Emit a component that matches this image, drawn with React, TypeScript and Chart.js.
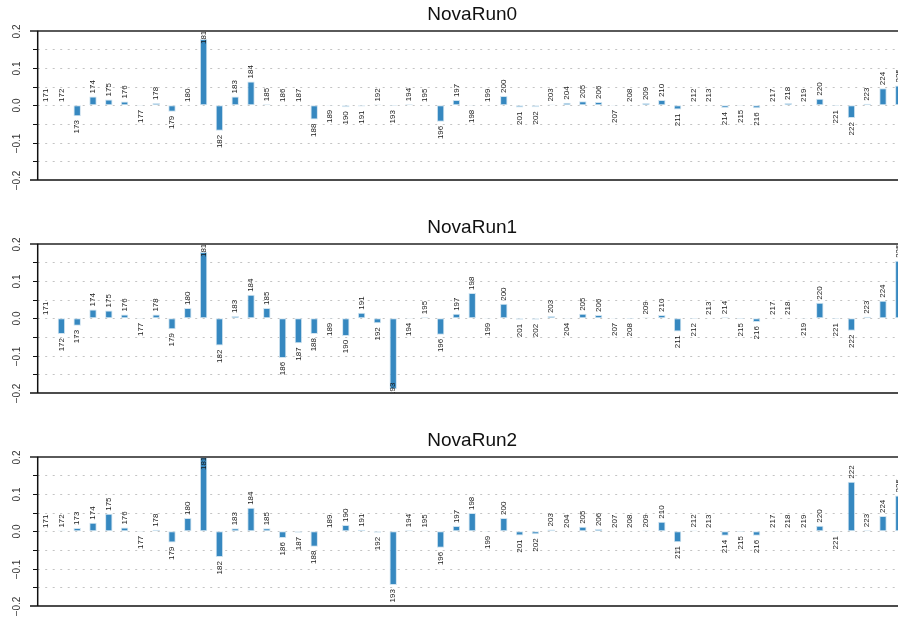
import React, { useEffect, useRef } from "react";
import { Chart, registerables } from "chart.js";

Chart.register(...registerables);

const categories = [
  "171", "172", "173", "174", "175", "176", "177", "178", "179", "180",
  "181", "182", "183", "184", "185", "186", "187", "188", "189", "190",
  "191", "192", "193", "194", "195", "196", "197", "198", "199", "200",
  "201", "202", "203", "204", "205", "206", "207", "208", "209", "210",
  "211", "212", "213", "214", "215", "216", "217", "218", "219", "220",
  "221", "222", "223", "224", "225",
];

const run0 = [
  0.001, 0.001, -0.029, 0.024, 0.016, 0.01, -0.001, 0.006, -0.017, 0.001,
  0.178, -0.068, 0.024, 0.064, 0.003, 0.001, 0.001, -0.038, -0.001, -0.005,
  -0.003, 0.002, -0.002, 0.003, 0.001, -0.044, 0.014, -0.001, 0.001, 0.025,
  -0.006, -0.005, 0.002, 0.007, 0.011, 0.009, -0.001, 0.001, 0.006, 0.014,
  -0.011, 0.001, 0.001, -0.007, -0.001, -0.008, 0.001, 0.006, 0.001, 0.018,
  -0.002, -0.034, 0.004, 0.046, 0.053,
];

const run1 = [
  0.001, -0.042, -0.02, 0.024, 0.021, 0.01, -0.001, 0.01, -0.029, 0.028,
  0.178, -0.073, 0.006, 0.063, 0.028, -0.106, -0.067, -0.042, -0.001, -0.047,
  0.015, -0.013, -0.19, -0.001, 0.003, -0.044, 0.012, 0.068, -0.001, 0.039,
  -0.004, -0.004, 0.006, -0.001, 0.012, 0.009, -0.001, -0.002, 0.002, 0.009,
  -0.035, -0.002, 0.001, 0.003, -0.002, -0.01, 0.001, 0.001, -0.001, 0.042,
  -0.002, -0.033, 0.004, 0.047, 0.154,
];

const run2 = [
  0.001, 0.002, 0.009, 0.023, 0.047, 0.01, -0.001, 0.004, -0.03, 0.036,
  0.21, -0.069, 0.008, 0.063, 0.008, -0.018, -0.004, -0.041, 0.001, 0.017,
  0.004, -0.004, -0.144, 0.003, 0.002, -0.044, 0.014, 0.049, -0.001, 0.036,
  -0.011, -0.008, 0.005, 0.001, 0.012, 0.006, 0.001, 0.001, 0.002, 0.026,
  -0.029, 0.002, 0.001, -0.012, -0.002, -0.012, 0.001, 0.001, 0.001, 0.015,
  -0.002, 0.133, 0.003, 0.041, 0.096,
];

const panelTitles = ["NovaRun0", "NovaRun1", "NovaRun2"];
const panelSeries = [run0, run1, run2];

const yTickValues = [-0.2, -0.1, 0, 0.1, 0.2];
const yTickLabels = ["\u22120.2", "\u22120.1", "0.0", "0.1", "0.2"];
const yGridValues = [-0.15, -0.1, -0.05, 0, 0.05, 0.1, 0.15];

const FONT = "'Liberation Sans', Arial, Helvetica, sans-serif";
const CANVAS_W = 940;
const PANEL_H = 213;

const decorPlugin = {
  id: "panelDecor",
  beforeDatasetsDraw(chart: any) {
    const { ctx, chartArea: a, scales } = chart;
    const y = scales.y;
    ctx.save();
    ctx.strokeStyle = "#c4c4c4";
    ctx.lineWidth = 1;
    ctx.setLineDash([2, 5.5]);
    for (const v of yGridValues) {
      const py = Math.round(y.getPixelForValue(v)) + 0.5;
      ctx.beginPath();
      ctx.moveTo(a.left, py);
      ctx.lineTo(a.right, py);
      ctx.stroke();
    }
    ctx.restore();
  },
  afterDatasetsDraw(chart: any) {
    const { ctx, chartArea: a, scales } = chart;
    const y = scales.y;
    const meta = chart.getDatasetMeta(0);
    const values = chart.data.datasets[0].data as number[];
    const labels = chart.data.labels as string[];

    // bar labels
    ctx.save();
    ctx.beginPath();
    ctx.rect(a.left, a.top, a.right - a.left, a.bottom - a.top);
    ctx.clip();
    ctx.font = `8px ${FONT}`;
    ctx.fillStyle = "#1a1a1a";
    ctx.textAlign = "left";
    ctx.textBaseline = "middle";
    meta.data.forEach((bar: any, i: number) => {
      const v = values[i];
      const label = labels[i];
      const w = ctx.measureText(label).width;
      let start: number;
      if (v >= 0) {
        start = bar.y - 3;
        if (start - w < a.top) start = a.top + w;
      } else {
        let end = bar.y + 4 + w;
        if (end > a.bottom + 3) end = a.bottom + 3;
        start = end;
      }
      ctx.save();
      ctx.translate(bar.x, start);
      ctx.rotate(-Math.PI / 2);
      ctx.fillText(label, 0, 0);
      ctx.restore();
    });
    ctx.restore();

    // axes
    ctx.save();
    const tickLeft = 30;
    ctx.strokeStyle = "#5a5a5a";
    ctx.lineWidth = 2;
    ctx.beginPath();
    ctx.moveTo(tickLeft, Math.round(a.top));
    ctx.lineTo(chart.width, Math.round(a.top));
    ctx.stroke();
    ctx.strokeStyle = "#111";
    ctx.lineWidth = 1.5;
    ctx.beginPath();
    ctx.moveTo(tickLeft, Math.round(a.bottom));
    ctx.lineTo(chart.width, Math.round(a.bottom));
    ctx.stroke();
    ctx.beginPath();
    ctx.moveTo(a.left, a.top);
    ctx.lineTo(a.left, a.bottom);
    ctx.stroke();
    // minor ticks
    ctx.lineWidth = 1;
    for (const v of yGridValues) {
      const py = Math.round(y.getPixelForValue(v)) + 0.5;
      ctx.beginPath();
      ctx.moveTo(33, py);
      ctx.lineTo(a.left, py);
      ctx.stroke();
    }
    ctx.font = `10px ${FONT}`;
    ctx.fillStyle = "#333";
    ctx.textAlign = "center";
    ctx.textBaseline = "middle";
    yTickValues.forEach((v, i) => {
      const py = Math.round(y.getPixelForValue(v)) + 0.5;
      ctx.save();
      ctx.translate(17, py);
      ctx.rotate(-Math.PI / 2);
      ctx.fillText(yTickLabels[i], 0, 0);
      ctx.restore();
    });
    const title = (chart.options.plugins as any).panelDecor.title;
    ctx.font = `19px ${FONT}`;
    ctx.fillStyle = "#111";
    ctx.textAlign = "center";
    ctx.textBaseline = "middle";
    ctx.fillText(title, (a.left + a.right) / 2, 15);
    ctx.restore();
  },
};

function Panel({ title, values, top }: { title: string; values: number[]; top: number }) {
  const ref = useRef<HTMLCanvasElement | null>(null);
  useEffect(() => {
    if (!ref.current) return;
    const chart = new Chart(ref.current, {
      type: "bar",
      data: {
        labels: categories,
        datasets: [
          {
            data: values,
            backgroundColor: "#3688c0",
            borderColor: "#cfe3f0",
            borderWidth: 1,
            borderSkipped: false,
            categoryPercentage: 1,
            barPercentage: 0.47,
          },
        ],
      },
      options: {
        animation: false,
        responsive: false,
        devicePixelRatio: 1,
        layout: { padding: { left: 37.7, right: CANVAS_W - 906.7, top: 30.7, bottom: PANEL_H - 180 } },
        plugins: {
          legend: { display: false },
          tooltip: { enabled: false },
          title: { display: false },
          panelDecor: { title },
        } as any,
        scales: {
          x: { type: "category", display: false, offset: true, grid: { display: false } },
          y: { display: false, min: -0.2, max: 0.2 },
        },
      },
      plugins: [decorPlugin],
    });
    return () => chart.destroy();
  }, [title, values]);
  return (
    <canvas
      ref={ref}
      width={CANVAS_W}
      height={PANEL_H}
      style={{ position: "absolute", left: 0, top, width: CANVAS_W, height: PANEL_H }}
    />
  );
}

export default function App() {
  return (
    <div
      style={{
        position: "fixed",
        left: 0,
        top: 0,
        width: 898,
        height: 617,
        overflow: "hidden",
        background: "#fff",
      }}
    >
      {panelTitles.map((t, i) => (
        <Panel key={t} title={t} values={panelSeries[i]} top={i * PANEL_H} />
      ))}
    </div>
  );
}
